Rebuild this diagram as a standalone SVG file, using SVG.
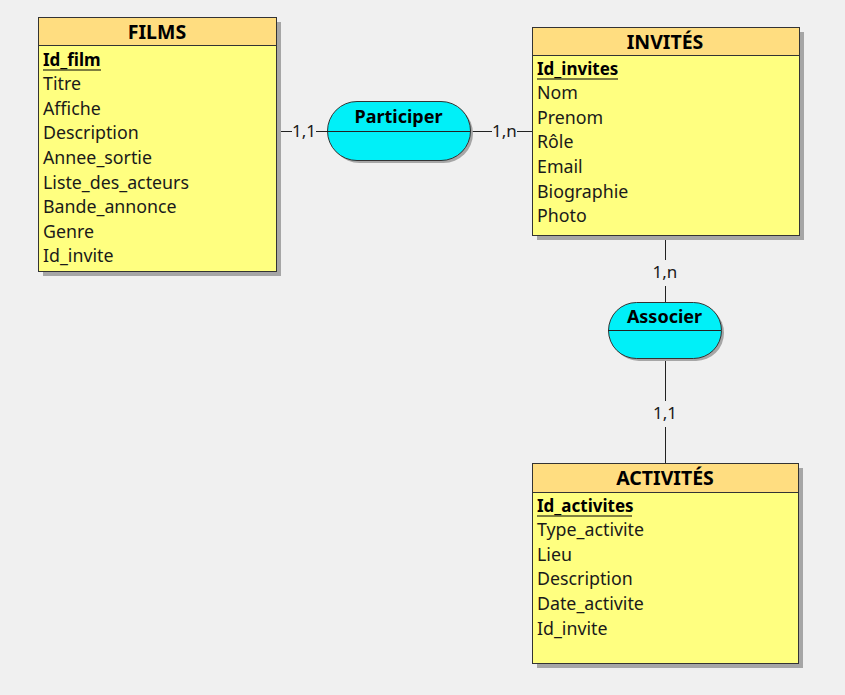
<svg xmlns="http://www.w3.org/2000/svg" width="845" height="695" viewBox="0 0 845 695">
<defs>
<style>
.shadow{fill:#a6a6a6}
.hdr{fill:#ffdd80;stroke:#333;stroke-width:1}
.body{fill:#ffff80;stroke:#333;stroke-width:1}
.title{font-family:"Noto Sans",sans-serif;font-size:19.5px;font-weight:bold;fill:#000;text-anchor:middle}
.attr{font-family:"Noto Sans",sans-serif;font-size:17.8px;fill:#1a1a1a}
.key{font-family:"Noto Sans",sans-serif;font-size:17px;font-weight:bold;fill:#000}
.ul{stroke:#000;stroke-width:1.2}
.rel{fill:#00f0f8;stroke:#333;stroke-width:1}
.rshadow{fill:#a6a6a6}
.rtitle{font-family:"Noto Sans",sans-serif;font-size:18px;font-weight:bold;fill:#000;text-anchor:middle}
.conn{stroke:#222;stroke-width:1;fill:none}
.card{font-family:"Noto Sans",sans-serif;font-size:17px;fill:#1a1a1a;text-anchor:middle}
.cbg{fill:#f0f0f0}
</style>
</defs>
<rect width="845" height="695" fill="#f0f0f0"/>

<g id="connectors">
<line class="conn" x1="276" y1="131.5" x2="330" y2="131.5"/>
<line class="conn" x1="467" y1="131.5" x2="532" y2="131.5"/>
<line class="conn" x1="665.5" y1="235" x2="665.5" y2="302"/>
<line class="conn" x1="665.5" y1="358" x2="665.5" y2="463"/>
<rect class="cbg" x="292" y="122" width="24" height="20"/>
<text class="card" x="304" y="137">1,1</text>
<rect class="cbg" x="492" y="122" width="25" height="20"/>
<text class="card" x="504.5" y="137">1,n</text>
<rect class="cbg" x="649" y="260" width="32" height="26"/>
<text class="card" x="665" y="278">1,n</text>
<rect class="cbg" x="650" y="401" width="30" height="26"/>
<text class="card" x="665" y="419">1,1</text>
</g>

<g id="films">
<rect class="shadow" x="43" y="22" width="238" height="254"/>
<rect class="body" x="38.5" y="17.5" width="238" height="254"/>
<rect class="hdr" x="38.5" y="17.5" width="238" height="28"/>
<text class="title" x="157" y="39">FILMS</text>
<text class="key" x="43" y="66">Id_film</text>
<line class="ul" x1="43" y1="70" x2="101" y2="70"/>
<text class="attr" x="43" y="90">Titre</text>
<text class="attr" x="43" y="115">Affiche</text>
<text class="attr" x="43" y="139">Description</text>
<text class="attr" x="43" y="164">Annee_sortie</text>
<text class="attr" x="43" y="189">Liste_des_acteurs</text>
<text class="attr" x="43" y="213">Bande_annonce</text>
<text class="attr" x="43" y="238">Genre</text>
<text class="attr" x="43" y="262">Id_invite</text>
</g>

<g id="invites">
<rect class="shadow" x="537" y="32" width="267" height="208"/>
<rect class="body" x="532.5" y="27.5" width="267" height="208"/>
<rect class="hdr" x="532.5" y="27.5" width="267" height="28"/>
<text class="title" x="665" y="49">INVITÉS</text>
<text class="key" x="537" y="75">Id_invites</text>
<line class="ul" x1="537" y1="79" x2="618" y2="79"/>
<text class="attr" x="537" y="99">Nom</text>
<text class="attr" x="537" y="124">Prenom</text>
<text class="attr" x="537" y="148">Rôle</text>
<text class="attr" x="537" y="173">Email</text>
<text class="attr" x="537" y="198">Biographie</text>
<text class="attr" x="537" y="222">Photo</text>
</g>

<g id="activites">
<rect class="shadow" x="537" y="468" width="266" height="200"/>
<rect class="body" x="532.5" y="463.5" width="266" height="200"/>
<rect class="hdr" x="532.5" y="463.5" width="266" height="29"/>
<text class="title" x="665" y="485">ACTIVITÉS</text>
<text class="key" x="537" y="512">Id_activites</text>
<line class="ul" x1="537" y1="516" x2="632" y2="516"/>
<text class="attr" x="537" y="536">Type_activite</text>
<text class="attr" x="537" y="561">Lieu</text>
<text class="attr" x="537" y="585">Description</text>
<text class="attr" x="537" y="610">Date_activite</text>
<text class="attr" x="537" y="635">Id_invite</text>
</g>

<g id="participer">
<rect class="rshadow" x="330" y="104" width="143" height="59" rx="29.5" ry="29.5"/>
<rect class="rel" x="327.5" y="101.5" width="143" height="59" rx="29.5" ry="29.5"/>
<line class="conn" x1="327" y1="131.5" x2="470" y2="131.5"/>
<text class="rtitle" x="398.5" y="123">Participer</text>
</g>

<g id="associer">
<rect class="rshadow" x="611" y="305" width="113" height="56" rx="28" ry="28"/>
<rect class="rel" x="608.5" y="302.5" width="113" height="56" rx="28" ry="28"/>
<line class="conn" x1="608" y1="330.5" x2="721" y2="330.5"/>
<text class="rtitle" x="664.5" y="323">Associer</text>
</g>
</svg>
